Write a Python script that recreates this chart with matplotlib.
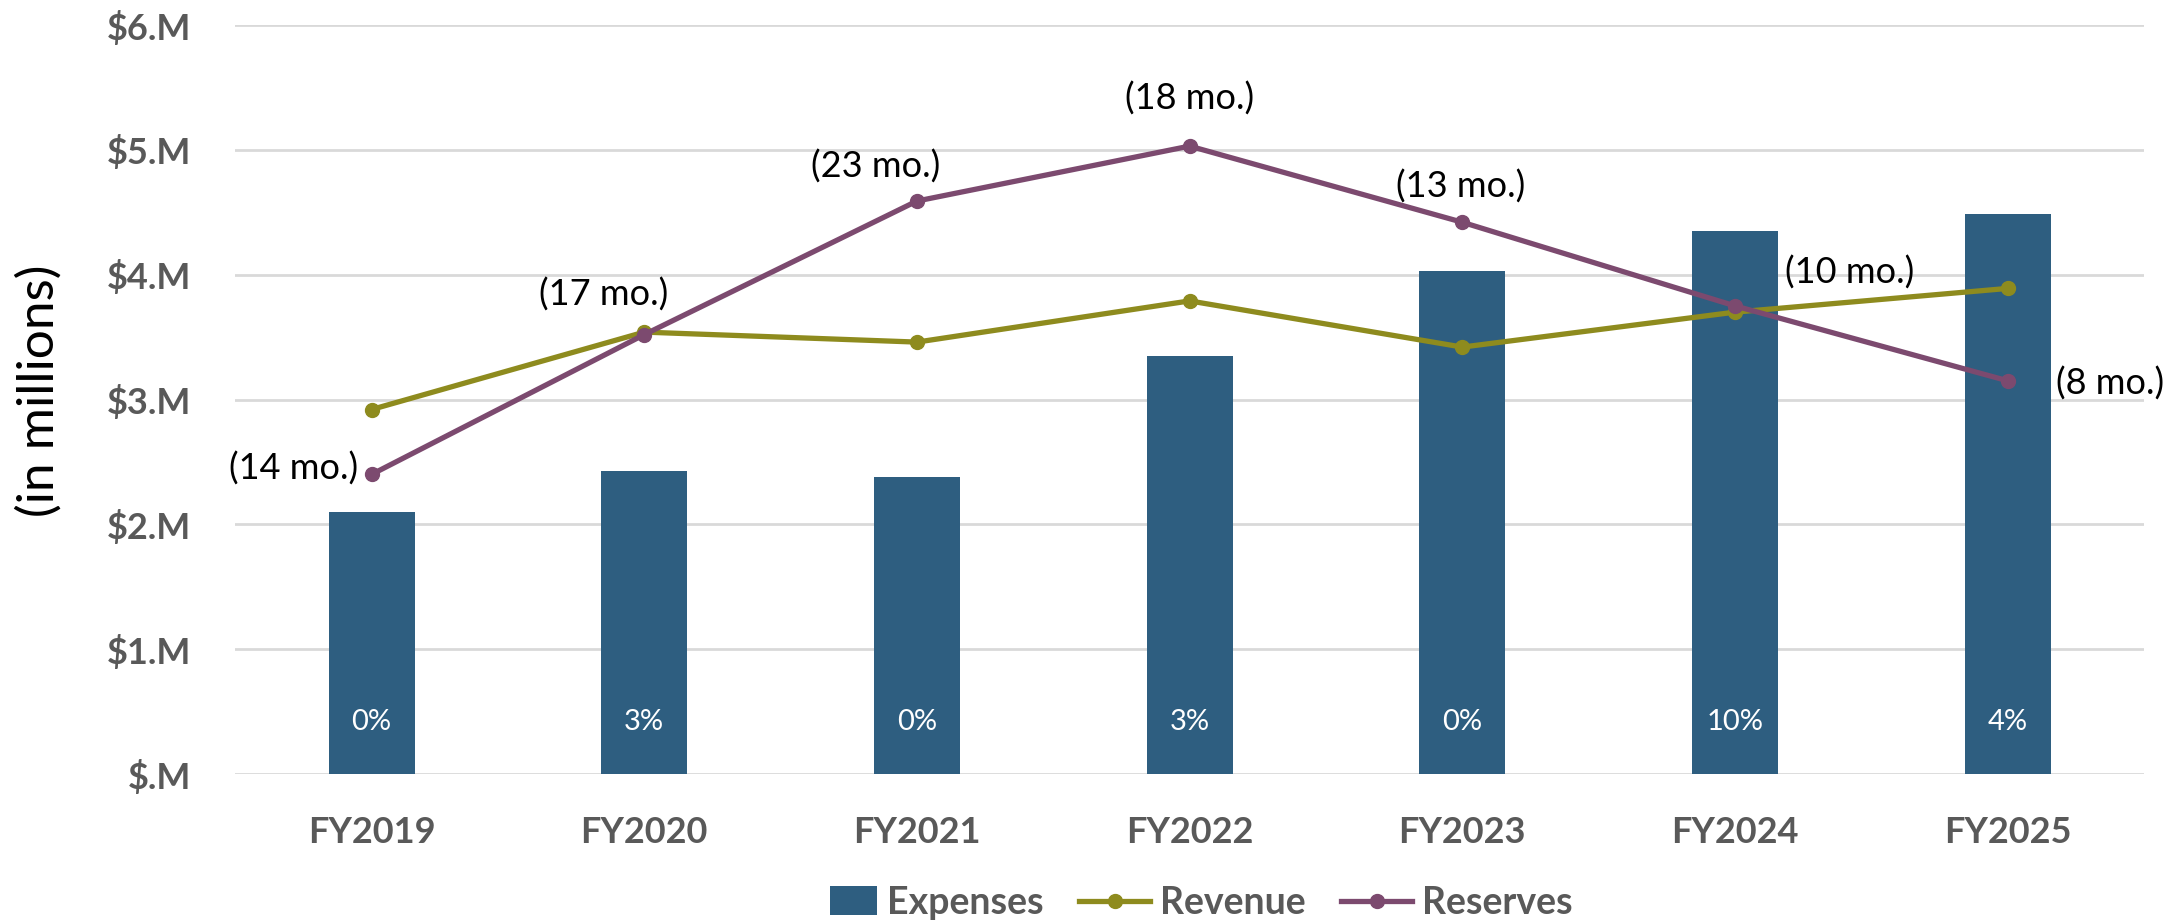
import numpy as np
import matplotlib
matplotlib.use("Agg")
import matplotlib.pyplot as plt
from matplotlib.patches import Patch, Rectangle
from matplotlib.lines import Line2D
from matplotlib.legend_handler import HandlerPatch

plt.rcParams['font.family'] = ['Lato', 'DejaVu Sans']

years = ["FY2019", "FY2020", "FY2021", "FY2022", "FY2023", "FY2024", "FY2025"]
expenses = [2.10, 2.43, 2.38, 3.35, 4.03, 4.35, 4.49]
revenue = [2.92, 3.54, 3.46, 3.79, 3.42, 3.70, 3.89]
reserves = [2.40, 3.52, 4.59, 5.03, 4.42, 3.75, 3.15]
reserve_months = ["(14 mo.)", "(17 mo.)", "(23 mo.)", "(18 mo.)", "(13 mo.)", "(10 mo.)", "(8 mo.)"]
expense_growth = ["0%", "3%", "0%", "3%", "0%", "10%", "4%"]

c_bar = "#2E5E80"
c_rev = "#8E8B1E"
c_res = "#7C4A6F"
c_txt = "#595959"

fig = plt.figure(figsize=(21.82, 9.23), dpi=100)
ax = fig.add_axes([0.1078, 0.1614, 0.8748, 0.8115])

x = np.arange(len(years))
ax.bar(x, expenses, width=0.315, color=c_bar, zorder=2)
ax.plot(x, revenue, color=c_rev, lw=3.8, marker="o", ms=10, zorder=3)
ax.plot(x, reserves, color=c_res, lw=3.8, marker="o", ms=10, zorder=4)

# growth % inside each bar
for i, g in enumerate(expense_growth):
    ax.text(x[i], 0.42, g, color="white", fontsize=21, ha="center", va="center", zorder=5)

# months of reserves, offsets in points
offsets = [(-10, 4, "right", "center"),
           (-29, 29, "center", "center"),
           (-30, 25, "center", "center"),
           (0, 34, "center", "center"),
           (-1, 26, "center", "center"),
           (36, 24, "left", "center"),
           (35, -2, "left", "center")]
for i, lab in enumerate(reserve_months):
    dx, dy, ha, va = offsets[i]
    ax.annotate(lab, (x[i], reserves[i]), xytext=(dx, dy), textcoords="offset points",
                ha=ha, va=va, fontsize=26, color="black", zorder=6)

ax.set_xlim(-0.5, len(years) - 0.5)
ax.set_ylim(0, 6)
ax.set_yticks(np.arange(0, 7))
ax.set_yticklabels(["$.M"] + ["$%d.M" % v for v in range(1, 7)])
ax.set_xticks(x)
ax.set_xticklabels(years)
for lab in ax.get_xticklabels() + ax.get_yticklabels():
    lab.set_fontweight("bold")
    lab.set_color(c_txt)
    lab.set_fontsize(26)
ax.tick_params(axis="both", length=0)
ax.tick_params(axis="x", pad=30)
ax.tick_params(axis="y", pad=32)
ax.grid(axis="y", color="#D9D9D9", lw=2, zorder=0)
ax.set_axisbelow(True)
for s in ax.spines.values():
    s.set_visible(False)

fig.text(0.018, 0.577, "(in millions)", rotation=90, ha="center", va="center",
         fontsize=37, color="black")


def square_patch(legend, orig_handle, xdescent, ydescent, width, height, fontsize):
    w = width * 0.66
    return Rectangle((width - w - xdescent, -ydescent - height * 0.05), w, height * 1.1)


handles = [Patch(facecolor=c_bar, label="Expenses"),
           Line2D([], [], color=c_rev, lw=3.8, marker="o", ms=10, label="Revenue"),
           Line2D([], [], color=c_res, lw=3.8, marker="o", ms=10, label="Reserves")]
leg = fig.legend(handles=handles, loc="center", bbox_to_anchor=(0.545, 0.022), ncol=3,
                 frameon=False, handlelength=1.9, handletextpad=0.25,
                 columnspacing=0.95, labelcolor=c_txt,
                 prop={"weight": "bold", "size": 27},
                 handler_map={Patch: HandlerPatch(patch_func=square_patch)})

fig.savefig("out.png", dpi=100)
